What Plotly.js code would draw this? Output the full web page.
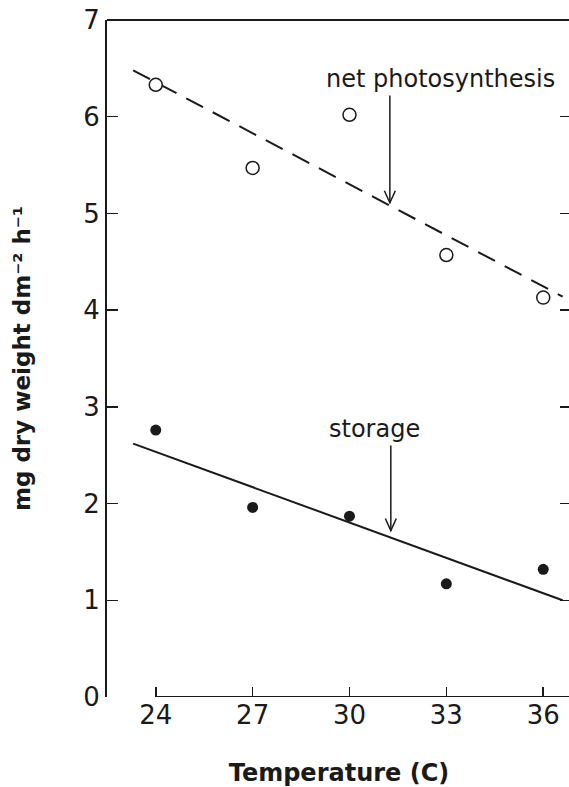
<!DOCTYPE html>
<html>
<head>
<meta charset="utf-8">
<script src="https://cdn.plot.ly/plotly-3.0.1.min.js"></script>
<style>
  html, body { margin: 0; padding: 0; overflow: hidden; background: #fff; }
  #chart { width: 572px; height: 787px; }
</style>
</head>
<body>
<div id="chart"></div>
<script>
// Data
var temperature = [24, 27, 30, 33, 36];
var netPhotosynthesis = [6.33, 5.47, 6.02, 4.57, 4.13];
var storage = [2.76, 1.96, 1.87, 1.17, 1.32];

// Fitted lines (end points)
var fitX = [23.3, 36.6];
var netFitY = [6.48, 4.14];
var storageFitY = [2.62, 1.0];

// Tick labels
var xTicks = [24, 27, 30, 33, 36];
var yTicks = [0, 1, 2, 3, 4, 5, 6, 7];

// Labels and their pointer arrows (data coordinates)
var netLabel = 'net photosynthesis';
var storageLabel = 'storage';
var xTitle = 'Temperature (C)';
var yTitle = 'mg dry weight dm\u207B\u00B2 h\u207B\u00B9';
var netLabelPos = {x: 32.83, y: 6.39};
var netArrow = {x: 31.25, tail: 6.22, head: 5.11};
var storageLabelPos = {x: 30.76, y: 2.77};
var storageArrow = {x: 31.28, tail: 2.60, head: 1.72};

// Arrowhead half-width and length, in data units (style)
var HEAD_W = 0.17;
var HEAD_H = 0.125;

var FONT = 'DejaVu Sans, Arial, sans-serif';
var INK = '#1a1a1a';

function arrowShapes(a) {
  return [
    {type: 'line', xref: 'x', yref: 'y', x0: a.x, x1: a.x, y0: a.tail, y1: a.head,
     line: {color: INK, width: 1.5}},
    {type: 'path', xref: 'x', yref: 'y',
     path: 'M' + (a.x - HEAD_W) + ',' + (a.head + HEAD_H) + ' L' + a.x + ',' + a.head +
           ' L' + (a.x + HEAD_W) + ',' + (a.head + HEAD_H),
     line: {color: INK, width: 1.5}}
  ];
}

var traces = [
  {
    x: fitX, y: netFitY, mode: 'lines', type: 'scatter',
    line: {color: INK, width: 2, dash: '19px,11px'},
    hoverinfo: 'skip', showlegend: false
  },
  {
    x: fitX, y: storageFitY, mode: 'lines', type: 'scatter',
    line: {color: INK, width: 2},
    hoverinfo: 'skip', showlegend: false
  },
  {
    x: temperature, y: netPhotosynthesis, mode: 'markers', type: 'scatter',
    name: 'net photosynthesis',
    marker: {symbol: 'circle', size: 13, color: '#ffffff', line: {color: INK, width: 1.5}},
    showlegend: false
  },
  {
    x: temperature, y: storage, mode: 'markers', type: 'scatter',
    name: 'storage',
    marker: {symbol: 'circle', size: 11, color: INK, line: {width: 0}},
    showlegend: false
  }
];

var layout = {
  width: 572,
  height: 787,
  margin: {l: 107, r: 1, t: 20, b: 90, pad: 0},
  paper_bgcolor: '#ffffff',
  plot_bgcolor: '#ffffff',
  font: {family: FONT, color: INK},
  showlegend: false,
  xaxis: {
    range: [22.49, 36.86],
    tickvals: xTicks,
    ticktext: xTicks.map(String),
    ticks: 'inside',
    ticklen: 10,
    tickwidth: 1.5,
    tickcolor: INK,
    showline: false,
    showgrid: false,
    zeroline: false,
    tickfont: {family: FONT, size: 26, color: INK},
    ticklabelstandoff: 0,
    title: {text: '<b>' + xTitle + '</b>', font: {family: FONT, size: 24, color: INK}, standoff: 38},
    automargin: false
  },
  yaxis: {
    range: [0, 7],
    tickvals: yTicks,
    ticktext: yTicks.map(String),
    ticks: 'inside',
    ticklen: 11,
    tickwidth: 1.5,
    tickcolor: INK,
    showline: true,
    linecolor: INK,
    linewidth: 2,
    mirror: 'ticks',
    showgrid: false,
    zeroline: false,
    tickfont: {family: FONT, size: 26, color: INK},
    ticklabelstandoff: 0,
    title: {text: '<b>' + yTitle + '</b>', font: {family: FONT, size: 23, color: INK}, standoff: 46},
    automargin: false
  },
  shapes: [
    // top frame line
    {type: 'line', xref: 'paper', yref: 'paper', x0: 0, x1: 1, y0: 1, y1: 1,
     line: {color: INK, width: 2}},
    // detached x axis line starting at first tick
    {type: 'line', xref: 'x', yref: 'y', x0: xTicks[0], x1: 36.86, y0: 0, y1: 0,
     line: {color: INK, width: 2}}
  ].concat(arrowShapes(netArrow), arrowShapes(storageArrow)),
  annotations: [
    {x: netLabelPos.x, y: netLabelPos.y, xref: 'x', yref: 'y', text: netLabel,
     showarrow: false, xanchor: 'center', yanchor: 'middle',
     font: {family: FONT, size: 24, color: INK}},
    {x: storageLabelPos.x, y: storageLabelPos.y, xref: 'x', yref: 'y', text: storageLabel,
     showarrow: false, xanchor: 'center', yanchor: 'middle',
     font: {family: FONT, size: 24, color: INK}}
  ]
};

Plotly.newPlot('chart', traces, layout, {staticPlot: true, displayModeBar: false}).then(function () {
  // remove Plotly's off-screen text measuring helper
  var tester = document.getElementById('js-plotly-tester');
  if (tester && tester.parentNode) tester.parentNode.removeChild(tester);
});
</script>
</body>
</html>
